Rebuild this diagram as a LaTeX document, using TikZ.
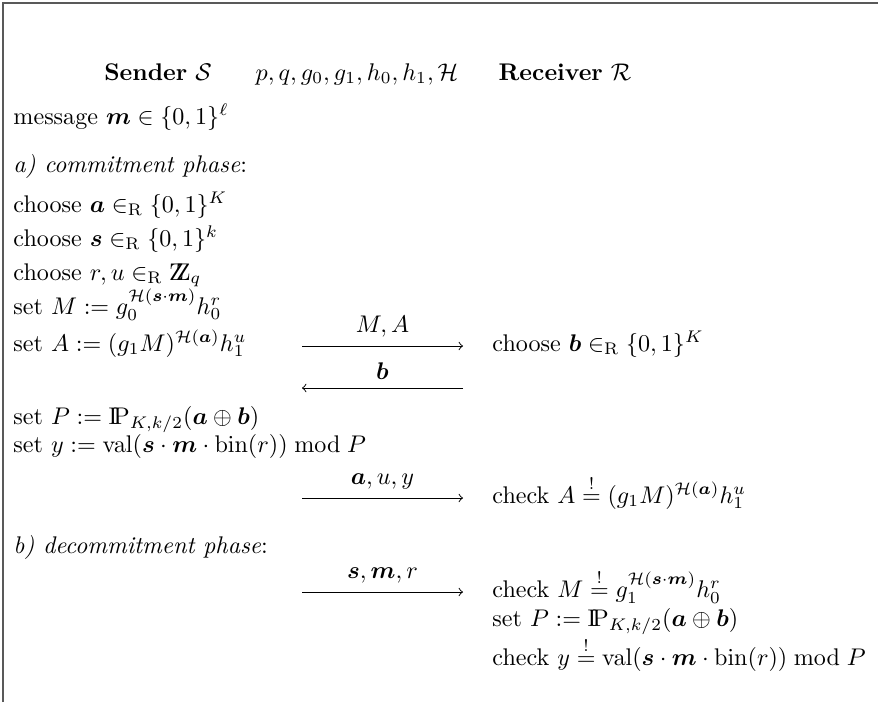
\documentclass[tikz,border=0pt]{standalone}
\usepackage{amsmath,amssymb}
\usepackage{tikz}
\usetikzlibrary{arrows, positioning}
\tikzstyle{frame} = [draw=black!65, line width=0.8pt]
\tikzstyle{head} = [anchor=base, inner sep=0pt]
\tikzstyle{txt} = [anchor=base west, inner sep=0pt]
\tikzstyle{arrow} = [->, >=to]
\newcommand{\ZZq}{{\mathrm{Z\!\!Z}}}
\newcommand{\IPr}{{\mathrm{I\!P}}}
\newcommand{\eqchk}{\stackrel{!}{=}}
\begin{document}
\begin{tikzpicture}[x=0.415pt, y=-0.415pt]
            \useasboundingbox (0,0) rectangle (878,702);
            \draw [frame] (3,702) -- (3,3) -- (878,3);

            % headings
            \node (snd) [head] at (158,80) {\textbf{Sender} $\mathcal{S}$};
            \node (par) [head] at (357,80) {$p,q,g_0,g_1,h_0,h_1,\mathcal{H}$};
            \node (rcv) [head] at (565,80) {\textbf{Receiver} $\mathcal{R}$};
            \node (msg) [txt] at (13,124) {message $\boldsymbol{m}\in\{0,1\}^\ell$};

            % commitment
            \node (pha) [txt] at (13,172) {\textit{a) commitment phase}:};
            \node (ca) [txt] at (13,212) {choose $\boldsymbol{a}\in_{\mathrm{R}}\{0,1\}^K$};
            \node (cs) [txt] at (13,246) {choose $\boldsymbol{s}\in_{\mathrm{R}}\{0,1\}^k$};
            \node (cr) [txt] at (13,280) {choose $r,u\in_{\mathrm{R}}\ZZq_q$};
            \node (sM) [txt] at (13,314) {set $M:=g_0^{\mathcal{H}(\boldsymbol{s}\cdot\boldsymbol{m})}h_0^r$};
            \node (sA) [txt] at (13,351) {set $A:=(g_1M)^{\mathcal{H}(\boldsymbol{a})}h_1^u$};
            \node (cb) [txt] at (492,351) {choose $\boldsymbol{b}\in_{\mathrm{R}}\{0,1\}^K$};
            \node (sP) [txt] at (13,424) {set $P:=\IPr_{K,k/2}(\boldsymbol{a}\oplus\boldsymbol{b})$};
            \node (sy) [txt] at (13,452) {set $y:=\mathrm{val}(\boldsymbol{s}\cdot\boldsymbol{m}\cdot\mathrm{bin}(r))\bmod P$};
            \node (kA) [txt] at (492,503) {check $A\eqchk(g_1M)^{\mathcal{H}(\boldsymbol{a})}h_1^u$};

            % decommitment
            \node (phb) [txt] at (13,553) {\textit{b) decommitment phase}:};
            \node (kM) [txt] at (492,597) {check $M\eqchk g_1^{\mathcal{H}(\boldsymbol{s}\cdot\boldsymbol{m})}h_0^r$};
            \node (rP) [txt] at (492,626) {set $P:=\IPr_{K,k/2}(\boldsymbol{a}\oplus\boldsymbol{b})$};
            \node (ky) [txt] at (492,665) {check $y\eqchk\mathrm{val}(\boldsymbol{s}\cdot\boldsymbol{m}\cdot\mathrm{bin}(r))\bmod P$};

            % message ends
            \coordinate (m1s) at (302,346);
            \coordinate (m1r) at (463,346);
            \coordinate (m2s) at (302,388);
            \coordinate (m2r) at (463,388);
            \coordinate (m3s) at (302,498);
            \coordinate (m3r) at (463,498);
            \coordinate (m4s) at (302,592);
            \coordinate (m4r) at (463,592);

            \draw [arrow] (m1s) -- node[above] {$M,A$} (m1r);
            \draw [arrow] (m2r) -- node[above] {$\boldsymbol{b}$} (m2s);
            \draw [arrow] (m3s) -- node[above] {$\boldsymbol{a},u,y$} (m3r);
            \draw [arrow] (m4s) -- node[above] {$\boldsymbol{s},\boldsymbol{m},r$} (m4r);
        \end{tikzpicture}
\end{document}
